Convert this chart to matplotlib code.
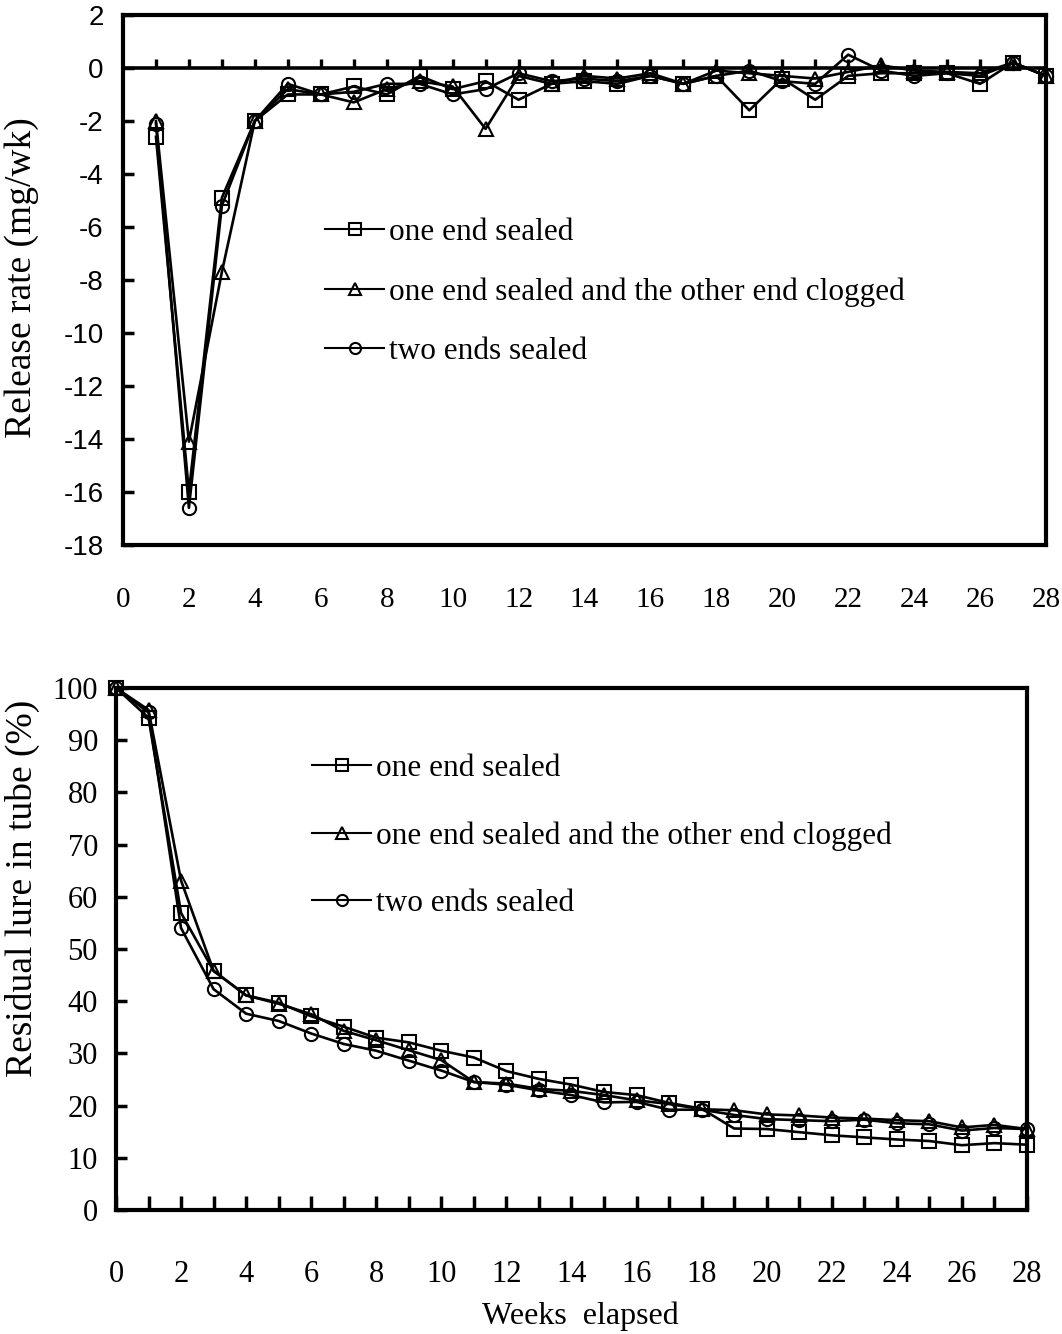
import matplotlib
matplotlib.use("Agg")
import matplotlib.pyplot as plt

plt.rcParams["axes.unicode_minus"] = False

SERIF = "Liberation Serif"
SANS = "Liberation Sans"

LABELS = ["one end sealed",
          "one end sealed and the other end clogged",
          "two ends sealed"]
MARKERS = ["s", "^", "o"]

# --- release rate (mg/wk), weeks 1..28 ---
rate_weeks = list(range(1, 29))
rate_one_end = [-2.6, -16.0, -4.9, -2.0, -1.0, -1.0, -0.7, -1.0, -0.3, -0.8,
                -0.5, -1.2, -0.6, -0.5, -0.6, -0.3, -0.6, -0.3, -1.6, -0.4,
                -1.2, -0.3, -0.2, -0.2, -0.2, -0.6, 0.2, -0.3]
rate_clogged = [-2.0, -14.1, -7.7, -2.0, -0.8, -1.0, -1.3, -0.8, -0.5, -0.7,
                -2.3, -0.3, -0.6, -0.3, -0.4, -0.2, -0.6, -0.1, -0.2, -0.3,
                -0.4, -0.15, 0.1, -0.1, -0.15, -0.2, 0.2, -0.3]
rate_two_ends = [-2.1, -16.6, -5.2, -2.0, -0.6, -1.0, -0.9, -0.6, -0.6, -1.0,
                 -0.8, -0.2, -0.5, -0.4, -0.5, -0.3, -0.6, -0.3, -0.1, -0.5,
                 -0.6, 0.5, -0.1, -0.3, -0.2, -0.3, 0.2, -0.3]

# --- residual lure in tube (%), weeks 0..28 ---
res_weeks = list(range(0, 29))
res_one_end = [100, 94.3, 56.9, 45.8, 41.1, 39.7, 37.1, 35.1, 33.0, 32.1,
               30.5, 29.2, 26.6, 25.1, 24.0, 22.6, 22.0, 20.5, 19.4, 15.6,
               15.5, 14.9, 14.3, 13.9, 13.5, 13.2, 12.4, 12.8, 12.5]
res_clogged = [100, 95.8, 63.1, 45.8, 41.1, 39.5, 37.5, 34.3, 32.5, 30.6,
               28.7, 24.5, 24.2, 23.2, 22.8, 22.0, 21.0, 20.3, 19.3, 19.1,
               18.3, 18.1, 17.7, 17.5, 17.2, 17.0, 15.8, 16.3, 15.5]
res_two_ends = [100, 95.3, 54.0, 42.3, 37.6, 36.2, 33.8, 31.8, 30.5, 28.6,
                26.7, 24.5, 24.0, 22.9, 22.0, 20.6, 20.7, 19.2, 19.2, 18.2,
                17.4, 17.2, 17.0, 17.3, 16.6, 16.4, 15.2, 15.7, 15.5]

fig = plt.figure(figsize=(10.62, 13.34), dpi=100)

LW = 1.9
MS = 9.5
MEW = 1.5
FRAME_LW = 3.0


def draw_series(ax, x, series):
    for ys, m, lab in zip(series, MARKERS, LABELS):
        ax.plot(x, ys, color="black", lw=LW, marker=m, ms=MS, mew=MEW,
                mfc="none", mec="black", label=lab, clip_on=False, zorder=3)


def style_frame(ax):
    for sp in ax.spines.values():
        sp.set_linewidth(FRAME_LW)


def add_legend(ax, anchor, spacing):
    leg = ax.legend(loc="upper left", bbox_to_anchor=anchor,
                    bbox_transform=fig.transFigure, frameon=False,
                    prop={"family": SERIF, "size": 22.5}, handlelength=1.9,
                    handletextpad=0.15, labelspacing=spacing, borderpad=0,
                    borderaxespad=0, numpoints=1)
    for h in leg.legend_handles:
        h.set_markersize(8)
        h.set_linewidth(1.5)


# ---------------- top panel: release rate ----------------
ax1 = fig.add_axes([0.1158, 0.5915, 0.8691, 0.3973])
draw_series(ax1, rate_weeks, [rate_one_end, rate_clogged, rate_two_ends])
ax1.set_xlim(0, 28)
ax1.set_ylim(-18, 2)
style_frame(ax1)
ax1.axhline(0, color="black", lw=2.6, zorder=2)
ax1.vlines(rate_weeks, 0, 0.35, color="black", lw=2.4, zorder=2)
ax1.set_xticks(range(0, 29, 2))
ax1.tick_params(axis="x", length=0, pad=30)
ax1.set_yticks(range(-18, 3, 2))
ax1.tick_params(axis="y", direction="in", length=8, width=2.5, pad=14)
for t in ax1.get_xticklabels():
    t.set_fontfamily(SERIF)
    t.set_fontsize(21)
for t in ax1.get_yticklabels():
    t.set_fontfamily(SANS)
    t.set_fontsize(20)
add_legend(ax1, (325 / 1062, 1 - 218 / 1334), 0.97)

fig.text(22 / 1062, 1 - 278 / 1334, "Release rate (mg/wk)", rotation=90,
         ha="center", va="center", family=SERIF, fontsize=27)

# ---------------- bottom panel: residual lure ----------------
ax2 = fig.add_axes([0.1092, 0.0930, 0.8578, 0.3913])
draw_series(ax2, res_weeks, [res_one_end, res_clogged, res_two_ends])
ax2.set_xlim(0, 28)
ax2.set_ylim(0, 100)
style_frame(ax2)
ax2.set_xticks(range(0, 29, 2))
ax2.set_xticks(range(1, 28, 2), minor=True)
ax2.tick_params(axis="x", which="both", direction="in", length=10, width=2.5,
                pad=36)
ax2.set_yticks(range(0, 101, 10))
ax2.tick_params(axis="y", direction="in", length=8, width=2.5, pad=13)
for t in ax2.get_xticklabels() + ax2.get_yticklabels():
    t.set_fontfamily(SERIF)
    t.set_fontsize(22)
add_legend(ax2, (312 / 1062, 1 - 754 / 1334), 1.22)

fig.text(22 / 1062, 1 - 888 / 1334, "Residual lure in tube (%)", rotation=90,
         ha="center", va="center", family=SERIF, fontsize=27)
fig.text(580 / 1062, 1 - 1316 / 1334, "Weeks  elapsed", ha="center",
         va="center", family=SERIF, fontsize=23)

fig.savefig("out.png", dpi=100)
